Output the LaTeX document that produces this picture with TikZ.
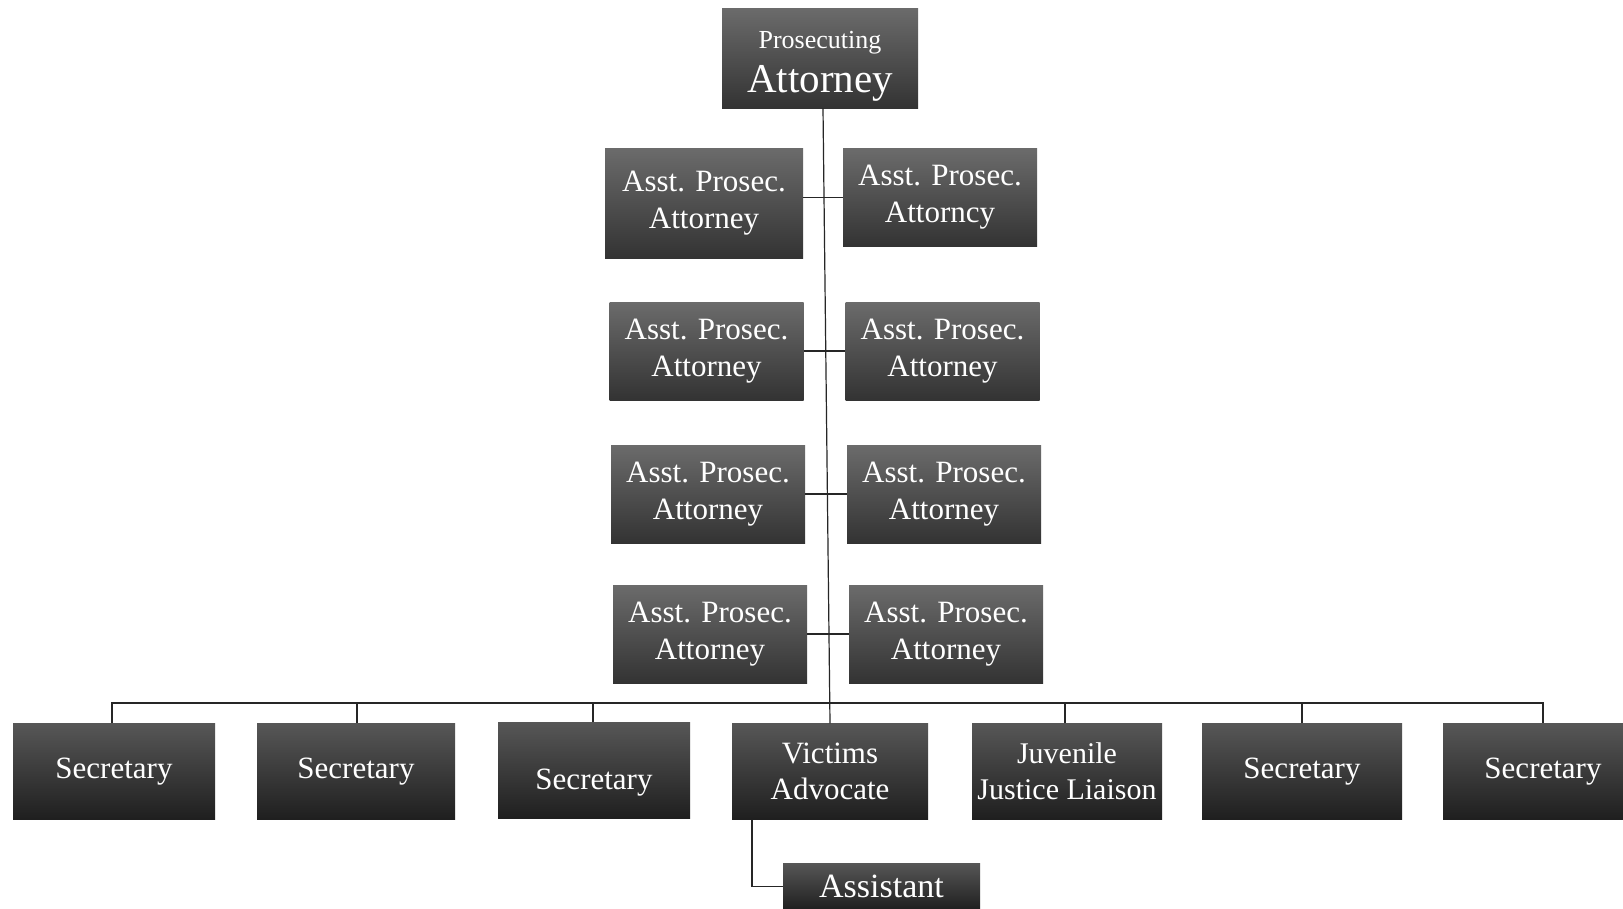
\documentclass[tikz,border=0pt]{standalone}
\usepackage{fontspec}
\setmainfont{Liberation Serif}
\tikzset{
  orgbox/.style={inner sep=0pt, text=white, align=center, top color=black!58, bottom color=black!80},
  lowbox/.style={inner sep=0pt, text=white, align=center, top color=black!66, bottom color=black!88},
  asst/.style={orgbox, font=\fontsize{31}{37}\selectfont, minimum width=194pt, minimum height=98pt},
  sec/.style={lowbox, font=\fontsize{31}{36}\selectfont, minimum height=96pt},
  link/.style={draw=black!85, line width=1.2pt}
}
\begin{document}
\begin{tikzpicture}[x=1pt,y=-1pt]
\useasboundingbox[fill=white] (0,0) rectangle (1623,908);
% top
\node[orgbox, minimum width=196pt, minimum height=100pt] (pa) at (820,58)
  {{\fontsize{26}{30}\selectfont\rule{0pt}{34pt}Prosecuting}\\[10pt]{\fontsize{41}{42}\selectfont Attorney}};
% assistant prosecuting attorneys
\node[asst, minimum width=198pt, minimum height=110pt] (a1l) at (704,203) {Asst. Prosec.\\Attorney};
\node[asst] (a1r) at (940,197.5) {Asst. Prosec.\\Attorncy};
\node[asst] (a2l) at (706.5,351) {Asst. Prosec.\\Attorney};
\node[asst] (a2r) at (942.5,351) {Asst. Prosec.\\Attorney};
\node[asst] (a3l) at (708,494) {Asst. Prosec.\\Attorney};
\node[asst] (a3r) at (944,494) {Asst. Prosec.\\Attorney};
\node[asst] (a4l) at (710,634) {Asst. Prosec.\\Attorney};
\node[asst] (a4r) at (946,634) {Asst. Prosec.\\Attorney};
% bottom row
\node[sec, minimum width=202pt] (s1) at (114,771.5) {Secretary};
\node[sec, minimum width=198pt] (s2) at (356,771.5) {Secretary};
\node[sec, minimum width=192pt] (s3) at (594,770.5) {\raisebox{-19pt}[0pt][0pt]{Secretary}};
\node[sec, minimum width=196pt] (va) at (830,771.5) {Victims\\Advocate};
\node[sec, minimum width=190pt, font=\fontsize{30}{36}\selectfont] (jj) at (1067,771.5) {Juvenile\\Justice Liaison};
\node[sec, minimum width=200pt] (s6) at (1302,771.5) {Secretary};
\node[sec, minimum width=200pt] (s7) at (1543,771.5) {Secretary};
\node[sec, minimum width=197pt, minimum height=47pt, font=\fontsize{34}{38}\selectfont] (as) at (881.5,886.5) {Assistant};
% connectors
\coordinate (bus) at (0,703);
\draw[link] ([xshift=3pt]pa.south) -- (va.north);
\draw[link] (a1l.east |- a1r.west) -- (a1r.west);
\draw[link] (a2l.east) -- (a2r.west);
\draw[link] (a3l.east) -- (a3r.west);
\draw[link] (a4l.east) -- (a4r.west);
\draw[link] ([xshift=-2pt]s1.north) -- ([xshift=-2pt]s1.north |- bus) -- (s7.north |- bus) -- (s7.north);
\draw[link] ([xshift=1pt]s2.north) -- ([xshift=1pt]s2.north |- bus);
\draw[link] ([xshift=-1pt]s3.north) -- ([xshift=-1pt]s3.north |- bus);
\draw[link] ([xshift=-2pt]jj.north) -- ([xshift=-2pt]jj.north |- bus);
\draw[link] (s6.north) -- (s6.north |- bus);
\draw[link] ([xshift=-78pt]va.south) |- (as.west);
\end{tikzpicture}
\end{document}
